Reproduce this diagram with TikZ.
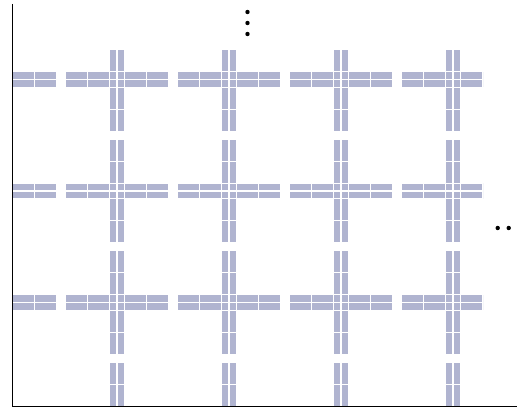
\documentclass[tikz,border=0pt]{standalone}
\usetikzlibrary{positioning}
\definecolor{latt}{RGB}{176,180,208}

\begin{document}
\begin{tikzpicture}[x=1pt, y=-1pt,
    piece/.style={fill=latt, draw=white, line width=1.1pt},
    axis/.style={line width=1.6pt},
    dot/.style={circle, fill=black, inner sep=0pt, minimum size=4.4pt}
]
    \useasboundingbox (0,0) rectangle (517,411);

    % Lattice of crossings and arms (clipped to the window)
    \begin{scope}
        \clip (13,50.2) rectangle (483,406);
        \foreach \X in {5,117,229,341,453}
        \foreach \Y in {-32,79.5,191,302.5,414} {
            % crossing
            \foreach \i in {-7.6,0}
            \foreach \j in {-7.6,0}
                \filldraw[piece] (\X+\i,\Y+\j) rectangle ++(7.6,7.6);
            % arms
            \foreach \a/\b in {7.6/29.8, 29.8/52, -29.8/-7.6, -52/-29.8}
            \foreach \s in {-7.6,0} {
                \filldraw[piece] (\X+\a,\Y+\s) rectangle (\X+\b,\Y+\s+7.6);
                \filldraw[piece] (\X+\s,\Y+\a) rectangle (\X+\s+7.6,\Y+\b);
            }
        }
    \end{scope}

    % Axes
    \coordinate (top) at (12.5,4);
    \coordinate (origin) at (12.5,406.5);
    \coordinate (right) at (517,406.5);
    \draw[axis] (top) -- (origin) -- (right);

    % Continuation dots
    \node[dot] (v1) at (247.5,12) {};
    \node[dot] (v2) at (247.5,23) {};
    \node[dot] (v3) at (247.5,34) {};
    \node[dot] (h1) at (497.7,228) {};
    \node[dot] (h2) at (508.7,228) {};
\end{tikzpicture}
\end{document}
